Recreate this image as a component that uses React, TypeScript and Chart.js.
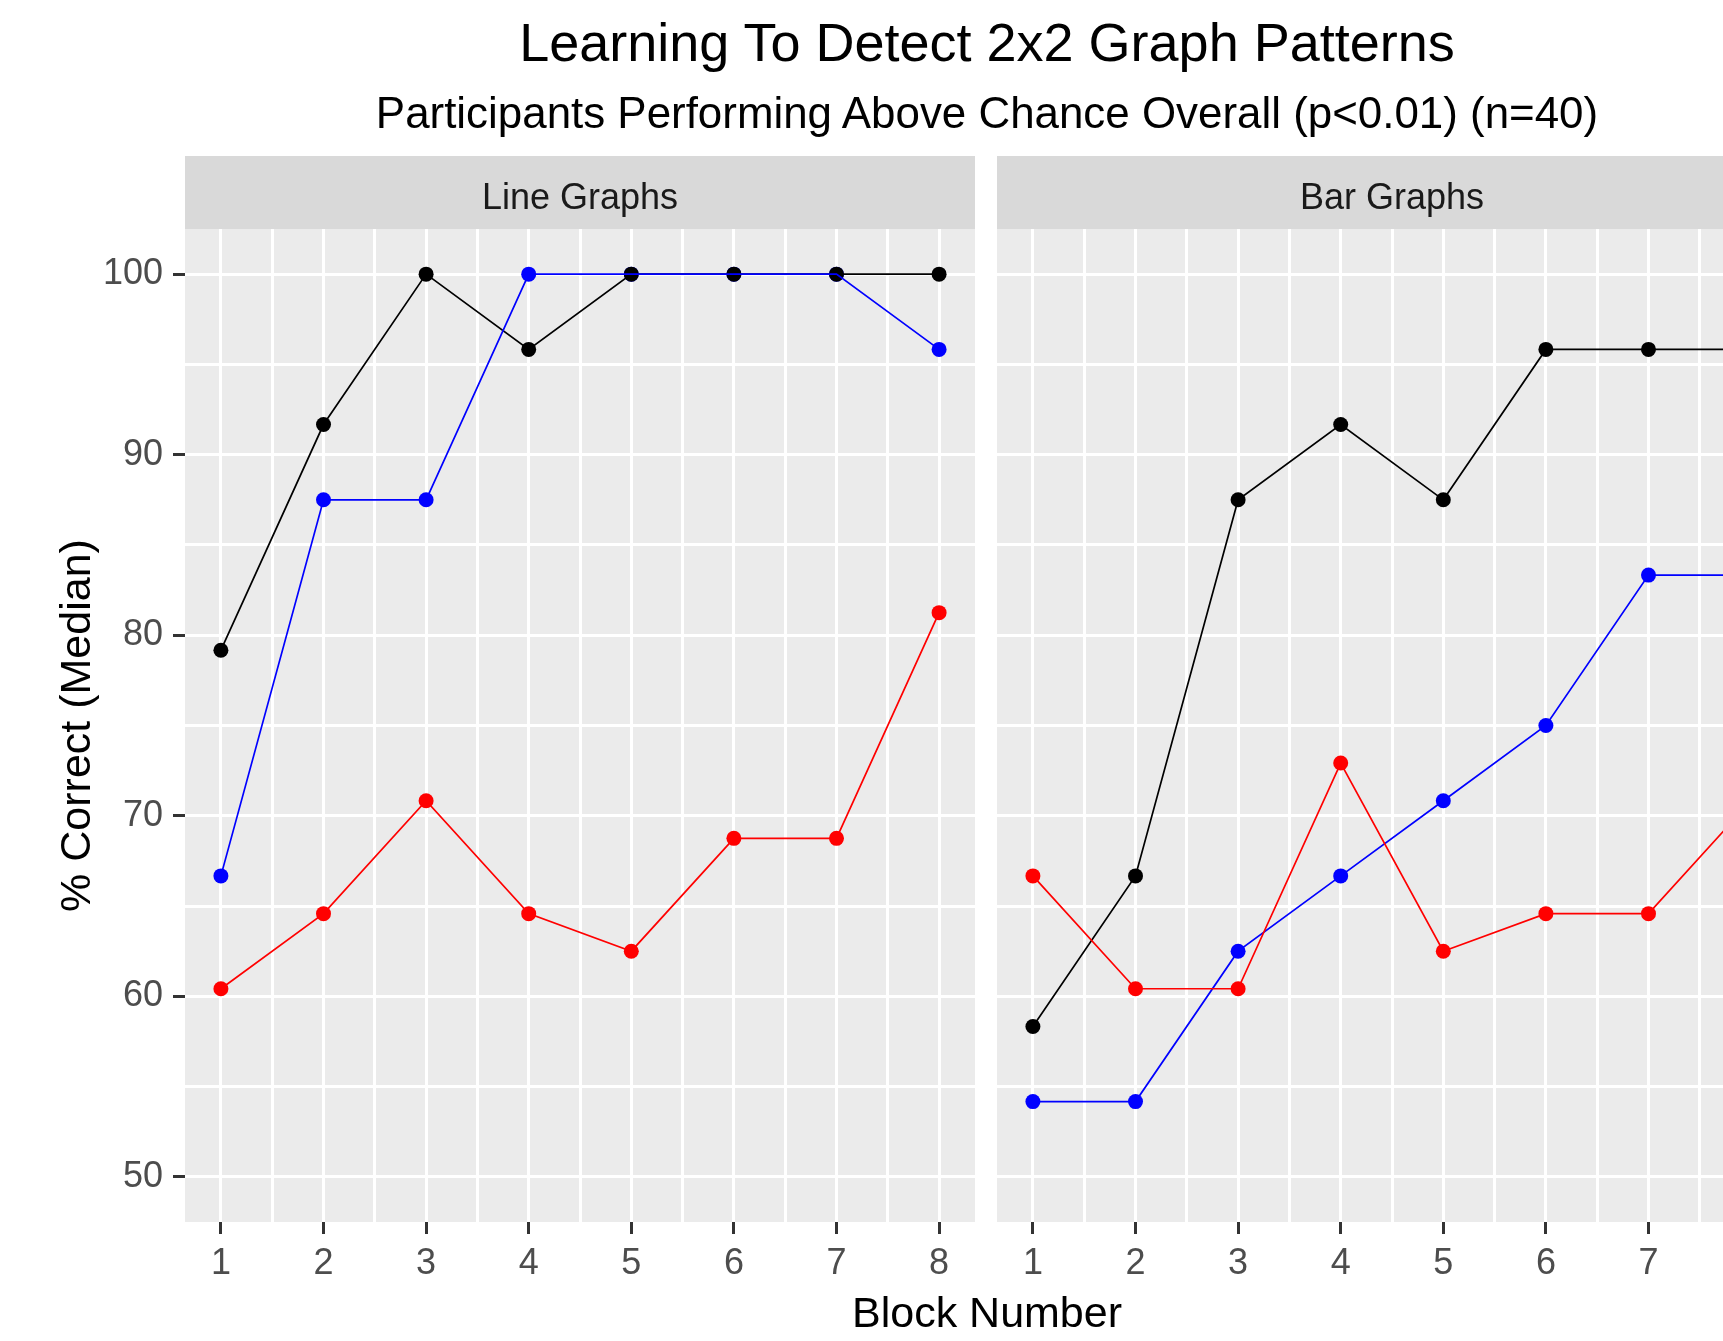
import React, { useEffect, useRef } from 'react';
import { Chart, registerables } from 'chart.js';

Chart.register(...registerables);

// ---------- data ----------
const blocks = [1, 2, 3, 4, 5, 6, 7, 8];
const panelTitles = ['Line Graphs', 'Bar Graphs'];

const lineBlack = [79.17, 91.67, 100, 95.83, 100, 100, 100, 100];
const lineBlue = [66.67, 87.5, 87.5, 100, 100, 100, 100, 95.83];
const lineRed = [60.42, 64.58, 70.83, 64.58, 62.5, 68.75, 68.75, 81.25];

const barBlack = [58.33, 66.67, 87.5, 91.67, 87.5, 95.83, 95.83, 95.83];
const barBlue = [54.17, 54.17, 62.5, 66.67, 70.83, 75, 83.33, 83.33];
const barRed = [66.67, 60.42, 60.42, 72.92, 62.5, 64.58, 64.58, 70.83];

const xGridValues = [1, 1.5, 2, 2.5, 3, 3.5, 4, 4.5, 5, 5.5, 6, 6.5, 7, 7.5, 8];
const yGridValues = [50, 55, 60, 65, 70, 75, 80, 85, 90, 95, 100];
const yTickLabels = [50, 60, 70, 80, 90, 100];
const xTickLabels = [1, 2, 3, 4, 5, 6, 7, 8];

const titleText = 'Learning To Detect 2x2 Graph Patterns';
const subtitleText = 'Participants Performing Above Chance Overall (p<0.01) (n=40)';
const xTitleText = 'Block Number';
const yTitleText = '% Correct (Median)';

const FONT = '"Liberation Sans", Arial, Helvetica, sans-serif';
const BLACK = '#000000';
const BLUE = '#0000FF';
const RED = '#FF0000';

const panelDecor = {
  id: 'panelDecor',
  beforeDraw(chart: any, _args: any, opts: any) {
    const { ctx, chartArea: a } = chart;
    ctx.save();
    ctx.fillStyle = '#EBEBEB';
    ctx.fillRect(a.left, a.top, a.right - a.left, a.bottom - a.top);
    ctx.fillStyle = '#D9D9D9';
    ctx.fillRect(a.left, opts.stripTop, a.right - a.left, a.top - opts.stripTop);
    ctx.fillStyle = '#1A1A1A';
    ctx.font = `36px ${FONT}`;
    ctx.textAlign = 'center';
    ctx.textBaseline = 'alphabetic';
    ctx.fillText(opts.text, (a.left + a.right) / 2, opts.baseline);
    ctx.restore();
  },
};

function toXY(values: number[]) {
  return blocks.map((b, i) => ({ x: b, y: values[i] }));
}

function makeConfig(showY: boolean, strip: string, black: number[], blue: number[], red: number[]) {
  const series = [
    { c: BLACK, v: black },
    { c: BLUE, v: blue },
    { c: RED, v: red },
  ];
  // lines drawn on top of points; blue line above black line; black points above blue points
  const lineSets = [
    { c: RED, v: red },
    { c: BLUE, v: blue },
    { c: BLACK, v: black },
  ].map((s) => ({
    data: toXY(s.v),
    borderColor: s.c,
    backgroundColor: s.c,
    borderWidth: 1.7,
    pointRadius: 0,
    showLine: true,
    order: 0,
  }));
  const pointSets = series.map((s) => ({
    data: toXY(s.v),
    borderColor: s.c,
    backgroundColor: s.c,
    pointRadius: 7.5,
    pointBorderWidth: 0,
    showLine: false,
    order: 1,
  }));

  return {
    type: 'line',
    data: { datasets: [...lineSets, ...pointSets] },
    plugins: [panelDecor],
    options: {
      responsive: false,
      animation: false,
      events: [],
      layout: { padding: { left: showY ? 0 : 10, right: showY ? 13 : 10, top: 229, bottom: 0 } },
      plugins: {
        legend: { display: false },
        tooltip: { enabled: false },
        panelDecor: { text: strip, stripTop: 156, baseline: 209 },
      },
      scales: {
        x: {
          type: 'linear',
          min: 0.65,
          max: 8.35,
          afterBuildTicks: (scale: any) => {
            scale.ticks = xGridValues.map((v) => ({ value: v }));
          },
          afterFit: (scale: any) => {
            scale.height = 119;
          },
          border: { display: false },
          grid: {
            color: '#FFFFFF',
            lineWidth: 3,
            drawTicks: true,
            tickLength: 12,
            tickWidth: 3,
            tickColor: (ctx: any) =>
              ctx.tick && xTickLabels.includes(ctx.tick.value) ? '#333333' : 'rgba(0,0,0,0)',
          },
          ticks: {
            autoSkip: false,
            maxRotation: 0,
            padding: 8,
            color: '#4D4D4D',
            font: { size: 36, family: FONT },
            callback: (v: any) => (xTickLabels.includes(Number(v)) ? String(v) : ''),
          },
        },
        y: {
          type: 'linear',
          min: 47.5,
          max: 102.5,
          afterBuildTicks: (scale: any) => {
            scale.ticks = yGridValues.map((v) => ({ value: v }));
          },
          afterFit: (scale: any) => {
            scale.width = showY ? 185 : 0;
          },
          border: { display: false },
          grid: {
            color: '#FFFFFF',
            lineWidth: 3,
            drawTicks: showY,
            tickLength: 12,
            tickWidth: 3,
            tickColor: (ctx: any) =>
              ctx.tick && yTickLabels.includes(ctx.tick.value) ? '#333333' : 'rgba(0,0,0,0)',
          },
          ticks: {
            display: showY,
            autoSkip: false,
            padding: 10,
            color: '#4D4D4D',
            font: { size: 36, family: FONT },
            callback: (v: any) => (yTickLabels.includes(Number(v)) ? String(v) : ''),
          },
          title: {
            display: showY,
            text: yTitleText,
            color: '#000000',
            font: { size: 43, family: FONT },
            padding: { top: 52, bottom: 0 },
          },
        },
      },
    },
  };
}

export default function App() {
  const leftRef = useRef<HTMLCanvasElement>(null);
  const rightRef = useRef<HTMLCanvasElement>(null);

  useEffect(() => {
    const left = new Chart(leftRef.current as any, makeConfig(true, panelTitles[0], lineBlack, lineBlue, lineRed) as any);
    const right = new Chart(rightRef.current as any, makeConfig(false, panelTitles[1], barBlack, barBlue, barRed) as any);
    return () => {
      left.destroy();
      right.destroy();
    };
  }, []);

  const textBase: React.CSSProperties = {
    position: 'absolute',
    left: 987,
    transform: 'translateX(-50%)',
    whiteSpace: 'nowrap',
    lineHeight: 1,
    color: '#000000',
    fontFamily: FONT,
  };

  return (
    <div
      style={{
        position: 'absolute',
        left: 0,
        top: 0,
        width: 1723,
        height: 1341,
        overflow: 'hidden',
        background: '#FFFFFF',
      }}
    >
      <canvas ref={leftRef} width={988} height={1341} style={{ position: 'absolute', left: 0, top: 0, display: 'block' }} />
      <canvas ref={rightRef} width={810} height={1341} style={{ position: 'absolute', left: 987, top: 0, display: 'block' }} />
      <div style={{ ...textBase, top: 15, fontSize: 54 }}>{titleText}</div>
      <div style={{ ...textBase, top: 91, fontSize: 43.9 }}>{subtitleText}</div>
      <div style={{ ...textBase, top: 1291, fontSize: 43 }}>{xTitleText}</div>
    </div>
  );
}
